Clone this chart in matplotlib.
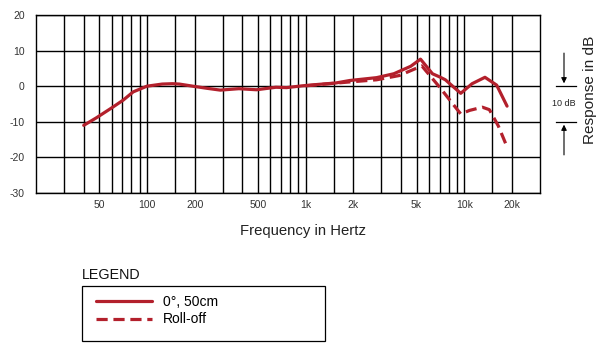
import matplotlib as mpl
import matplotlib.pyplot as plt
from matplotlib.patches import Rectangle
from matplotlib.transforms import blended_transform_factory

# ---------------------------------------------------------------- data ----
freq_solid = [40, 48, 60, 71, 82, 100, 125, 145, 160, 195, 240, 290, 380, 490,
              650, 760, 950, 1200, 1550, 1900, 2800, 3600, 4600, 5300, 6300,
              7000, 7600, 9500, 11200, 13500, 16000, 18600]
resp_solid = [-11.0, -8.9, -6.1, -3.9, -1.6, 0.0, 0.6, 0.7, 0.6, 0.0, -0.6,
              -1.1, -0.7, -1.0, -0.3, -0.4, 0.1, 0.5, 0.9, 1.6, 2.4, 3.5,
              5.6, 7.6, 3.5, 2.6, 1.8, -2.0, 0.7, 2.5, 0.3, -5.6]

freq_dash = [1000, 1500, 1900, 2800, 3900, 5400, 7000, 9500, 10800,
             13000, 14400, 16400, 18300]
resp_dash = [0.1, 0.8, 1.2, 1.8, 3.0, 5.7, -0.3, -7.8, -6.8, -5.9,
             -6.6, -11.2, -16.3]

grid_freqs = [30, 40, 50, 60, 70, 80, 90, 100, 150, 200, 300, 400, 500, 600,
              700, 800, 900, 1000, 1500, 2000, 3000, 4000, 5000, 6000, 7000,
              8000, 9000, 10000, 15000, 20000]
xtick_vals = [50, 100, 200, 500, 1000, 2000, 5000, 10000, 20000]
xtick_labels = ["50", "100", "200", "500", "1k", "2k", "5k", "10k", "20k"]
ytick_vals = [20, 10, 0, -10, -20, -30]

# ---------------------------------------------------------------- style ----
RED = "#B3202C"
mpl.rcParams.update({
    "font.family": ["Liberation Sans", "DejaVu Sans"],
    "axes.unicode_minus": False,
})

fig = plt.figure(figsize=(6.09, 3.53), dpi=100)
ax = fig.add_axes([0.0590, 0.4533, 0.8277, 0.5042])

ax.set_xscale("log")
ax.set_xlim(20, 30000)
ax.set_ylim(-30, 20)

for f in grid_freqs:
    ax.axvline(f, color="black", linewidth=1.0, zorder=1)
for v in ytick_vals:
    ax.axhline(v, color="black", linewidth=1.0, zorder=1)
for sp in ax.spines.values():
    sp.set_linewidth(1.0)

ax.plot(freq_solid, resp_solid, color=RED, linewidth=2.3, zorder=3,
        solid_capstyle="round", label="0°, 50cm")
ax.plot(freq_dash, resp_dash, color=RED, linewidth=2.3, zorder=2,
        linestyle=(0, (3.5, 1.8)), label="Roll-off")

ax.set_xticks(xtick_vals)
ax.set_xticklabels(xtick_labels)
ax.xaxis.set_minor_locator(mpl.ticker.NullLocator())
ax.set_yticks(ytick_vals)
ax.tick_params(axis="both", length=0, labelsize=7.5, colors="#333333")
ax.tick_params(axis="y", pad=8)
ax.tick_params(axis="x", pad=5)

fig.text(303 / 609, 1 - 231 / 353, "Frequency in Hertz", fontsize=10.7,
         ha="center", va="center", color="#222222")
fig.text(590 / 609, 1 - 90 / 353, "Response in dB", fontsize=11.1,
         rotation=90, ha="center", va="center", color="#222222")

# 10 dB scale marker on the right
tr = blended_transform_factory(fig.transFigure, ax.transData)
for v in (0, -10):
    ax.plot([556 / 609, 576 / 609], [v, v], color="black", linewidth=0.9,
            transform=tr, clip_on=False)
ax.annotate("", xy=(564 / 609, 0.8), xytext=(564 / 609, 9.3),
            xycoords=tr, textcoords=tr,
            arrowprops=dict(arrowstyle="-|>", color="black", lw=0.8,
                            mutation_scale=8, shrinkA=0, shrinkB=0))
ax.annotate("", xy=(564 / 609, -10.8), xytext=(564 / 609, -19.3),
            xycoords=tr, textcoords=tr,
            arrowprops=dict(arrowstyle="-|>", color="black", lw=0.8,
                            mutation_scale=8, shrinkA=0, shrinkB=0))
ax.text(564 / 609, -5, "10 dB", transform=tr, fontsize=6.5,
        ha="center", va="center", color="#222222")

# legend block
fig.text(82 / 609, 1 - 275 / 353, "LEGEND", fontsize=10.3,
         ha="left", va="center", color="#111111")
fig.add_artist(Rectangle((82 / 609, 1 - 341 / 353), 243 / 609, 55 / 353,
                         transform=fig.transFigure, fill=False,
                         edgecolor="black", linewidth=0.9))
h, l = ax.get_legend_handles_labels()
fig.legend(h, l, loc="upper left", bbox_to_anchor=(96 / 609, 1 - 295 / 353),
           frameon=False, fontsize=10, handlelength=4.0, handletextpad=0.85,
           labelspacing=0.25, borderpad=0, borderaxespad=0)

fig.savefig("out.png", dpi=100)
